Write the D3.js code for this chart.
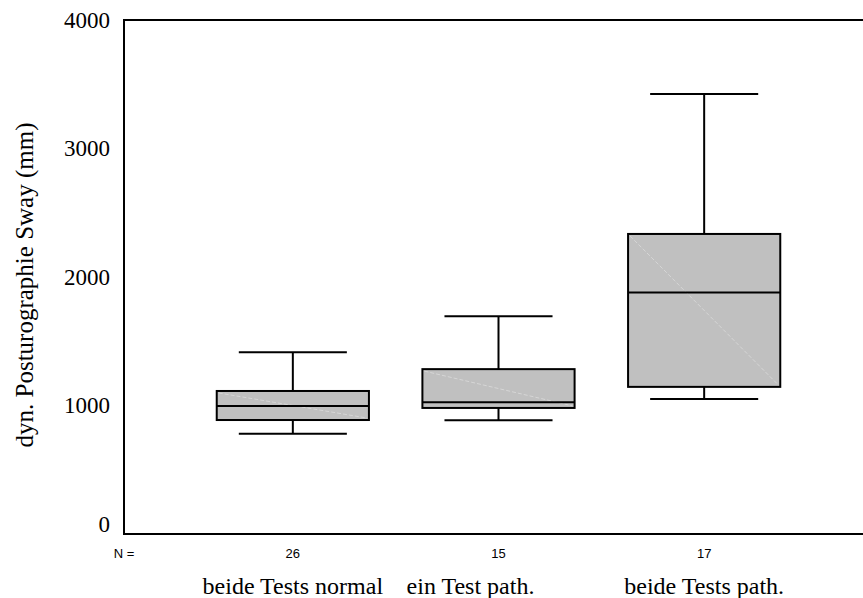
<!DOCTYPE html>
<html>
<head>
<meta charset="utf-8">
<script src="https://cdn.jsdelivr.net/npm/d3@7"></script>
<style>
  body { margin: 0; background: #fff; }
  svg { display: block; }
</style>
</head>
<body>
<div id="chart"></div>
<script>
// groups and their box statistics (mm)
var groups = ["beide Tests normal", "ein Test path.", "beide Tests path."];
var counts = [26, 15, 17];
var whiskerLow = [780, 885, 1050];
var q1 = [887, 981, 1145];
var median = [997, 1025, 1880];
var q3 = [1113, 1283, 2335];
var whiskerHigh = [1415, 1695, 3425];
var yTicks = [0, 1000, 2000, 3000, 4000];

var boxes = groups.map((g, i) => ({
    group: g, n: counts[i],
    lo: whiskerLow[i], q1: q1[i], med: median[i], q3: q3[i], hi: whiskerHigh[i]
}));

const margin = {top: 20, right: 0, bottom: 64, left: 124},
    width = 863 - margin.left - margin.right,
    height = 598 - margin.top - margin.bottom;

const svg = d3.select("#chart")
    .append("svg")
    .attr("width", 863)
    .attr("height", 598)
    .append("g")
    .attr("transform", `translate(${margin.left},${margin.top})`);

// scales
const xScale = d3.scaleBand()
    .domain(groups)
    .range([66, 683])
    .paddingInner(0.26)
    .paddingOuter(0.13);

const yScale = d3.scaleLinear()
    .domain([0, 4000])
    .range([height, 0]);

const boxW = xScale.bandwidth();
const capW = boxW * 0.71;

// y axis (labels only)
const yAxis = d3.axisLeft(yScale).tickValues(yTicks).tickFormat(d3.format("d"))
    .tickSize(0).tickPadding(14);
const yAxisGroup = svg.append("g").call(yAxis);
yAxisGroup.select(".domain").remove();
yAxisGroup.selectAll("text")
    .attr("font-family", "'Liberation Serif', 'Times New Roman', serif")
    .attr("font-size", 23)
    .attr("fill", "#000")
    .attr("dy", d => d === 0 ? "-0.1em" : "0.32em");

// frame lines: left, top, bottom
svg.append("line")
    .attr("x1", 0).attr("x2", 0)
    .attr("y1", yScale(4000)).attr("y2", yScale(0))
    .attr("stroke", "#000").attr("stroke-width", 2);
svg.append("line")
    .attr("x1", -1).attr("x2", width)
    .attr("y1", yScale(4000)).attr("y2", yScale(4000))
    .attr("stroke", "#000").attr("stroke-width", 2);
svg.append("line")
    .attr("x1", -1).attr("x2", width)
    .attr("y1", yScale(0)).attr("y2", yScale(0))
    .attr("stroke", "#000").attr("stroke-width", 2);

// box plots
const bp = svg.selectAll(".box")
    .data(boxes)
    .join("g")
    .attr("class", "box")
    .attr("transform", d => `translate(${xScale(d.group) + boxW / 2},0)`);

// whisker stems
bp.append("line")
    .attr("x1", 0).attr("x2", 0)
    .attr("y1", d => yScale(d.hi)).attr("y2", d => yScale(d.q3))
    .attr("stroke", "#000").attr("stroke-width", 2);
bp.append("line")
    .attr("x1", 0).attr("x2", 0)
    .attr("y1", d => yScale(d.q1)).attr("y2", d => yScale(d.lo))
    .attr("stroke", "#000").attr("stroke-width", 2);

// whisker caps
bp.append("line")
    .attr("x1", -capW / 2).attr("x2", capW / 2)
    .attr("y1", d => yScale(d.hi)).attr("y2", d => yScale(d.hi))
    .attr("stroke", "#000").attr("stroke-width", 2);
bp.append("line")
    .attr("x1", -capW / 2).attr("x2", capW / 2)
    .attr("y1", d => yScale(d.lo)).attr("y2", d => yScale(d.lo))
    .attr("stroke", "#000").attr("stroke-width", 2);

// box
bp.append("rect")
    .attr("x", -boxW / 2)
    .attr("width", boxW)
    .attr("y", d => yScale(d.q3))
    .attr("height", d => yScale(d.q1) - yScale(d.q3))
    .attr("fill", "#c0c0c0")
    .attr("stroke", "#000")
    .attr("stroke-width", 2);

// faint diagonal seen inside the boxes
bp.append("line")
    .attr("x1", -boxW / 2 + 2).attr("x2", boxW / 2 - 2)
    .attr("y1", d => yScale(d.q3) + 2).attr("y2", d => yScale(d.q1) - 2)
    .attr("stroke", "#d6d6d6").attr("stroke-width", 1)
    .attr("stroke-dasharray", "4,2");

// median
bp.append("line")
    .attr("x1", -boxW / 2).attr("x2", boxW / 2)
    .attr("y1", d => yScale(d.med)).attr("y2", d => yScale(d.med))
    .attr("stroke", "#000").attr("stroke-width", 2);

// N counts
svg.append("text")
    .attr("x", 0)
    .attr("y", height + 24)
    .attr("text-anchor", "middle")
    .attr("font-family", "'Liberation Sans', Arial, sans-serif")
    .attr("font-size", 13)
    .text("N =");

svg.selectAll(".ncount")
    .data(boxes)
    .join("text")
    .attr("class", "ncount")
    .attr("x", d => xScale(d.group) + boxW / 2)
    .attr("y", height + 24)
    .attr("text-anchor", "middle")
    .attr("font-family", "'Liberation Sans', Arial, sans-serif")
    .attr("font-size", 13)
    .text(d => d.n);

// category labels
svg.selectAll(".cat")
    .data(boxes)
    .join("text")
    .attr("class", "cat")
    .attr("x", d => xScale(d.group) + boxW / 2)
    .attr("dx", (d, i) => i === 1 ? -28 : 0)
    .attr("y", height + 60)
    .attr("text-anchor", "middle")
    .attr("font-family", "'Liberation Serif', 'Times New Roman', serif")
    .attr("font-size", 24)
    .text(d => d.group);

// y axis title
svg.append("text")
    .attr("transform", "rotate(-90)")
    .attr("x", -(285 - margin.top))
    .attr("y", -margin.left + 33)
    .attr("text-anchor", "middle")
    .attr("font-family", "'Liberation Serif', 'Times New Roman', serif")
    .attr("font-size", 25)
    .text("dyn. Posturographie Sway (mm)");
</script>
</body>
</html>
